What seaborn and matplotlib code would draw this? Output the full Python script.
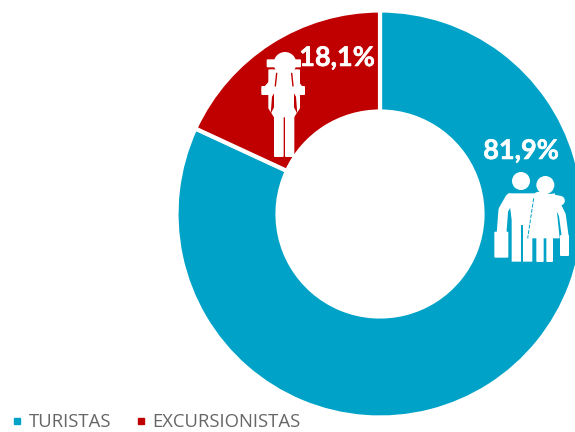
import matplotlib
matplotlib.use('Agg')
import matplotlib.pyplot as plt
import matplotlib.patheffects as pe
from matplotlib.lines import Line2D
from matplotlib.patches import Circle, FancyBboxPatch, Polygon
import seaborn as sns

categories = ['TURISTAS', 'EXCURSIONISTAS']
shares = [81.9, 18.1]
colors = ['#00A3C7', '#C00000']

sns.set_theme(style='white')
plt.rcParams['font.family'] = ['Open Sans', 'DejaVu Sans']

W, H = 575, 432
fig = plt.figure(figsize=(W / 100, H / 100), dpi=100)
ax = fig.add_axes([0, 0, 1, 1])

ax.pie(shares, colors=colors, startangle=90, counterclock=False,
       center=(380, H - 214), radius=203.5,
       wedgeprops={'width': 101, 'edgecolor': 'white', 'linewidth': 3})
ax.set_xlim(0, W)
ax.set_ylim(0, H)
ax.set_aspect('equal')
ax.axis('off')


def circle(x0, y0, x, y, r):
    ax.add_patch(Circle((x0 + x / 3, H - (y0 + y / 3)), r / 3, fc='white', ec='none', zorder=3))


def poly(x0, y0, pts, color='white', z=3):
    pts = [(x0 + x / 3, H - (y0 + y / 3)) for x, y in pts]
    ax.add_patch(Polygon(pts, closed=True, fc=color, ec='none', zorder=z))


def box(x0, y0, x, y, w, h, color='white', z=3):
    ax.add_patch(FancyBboxPatch((x0 + x / 3 + 1, H - (y0 + (y + h) / 3) + 1), w / 3 - 2, h / 3 - 2,
                                boxstyle='round,pad=1', fc=color, ec='none', zorder=z))


def stroke(x0, y0, pts, lw, color='white', z=3, ls='-'):
    ax.plot([x0 + p[0] / 3 for p in pts], [H - (y0 + p[1] / 3) for p in pts], color=color,
            lw=lw, ls=ls, solid_capstyle='round', solid_joinstyle='round', zorder=z)


# backpacker
bx, by = 250, 30
box(bx, by, 50, 88, 28, 24)
box(bx, by, 125, 88, 28, 24)
box(bx, by, 55, 118, 95, 60)
poly(bx, by, [(55, 190), (150, 190), (150, 235), (132, 262), (72, 262), (55, 235)])
poly(bx, by, [(66, 200), (72, 190), (72, 232), (62, 252)], colors[1], 4)
poly(bx, by, [(138, 200), (132, 190), (132, 232), (142, 252)], colors[1], 4)
stroke(bx, by, [(80, 130), (76, 168)], 1, colors[1], 4)
stroke(bx, by, [(125, 130), (129, 168)], 1, colors[1], 4)
box(bx, by, 80, 132, 46, 125)
box(bx, by, 72, 235, 29, 146)
box(bx, by, 105, 235, 28, 146)
poly(bx, by, [(74, 135), (84, 135), (84, 172), (40, 195), (34, 180)])
poly(bx, by, [(131, 135), (121, 135), (121, 172), (160, 195), (165, 180)])
box(bx, by, 34, 168, 50, 27)
box(bx, by, 118, 168, 47, 27)
circle(bx, by, 105, 100, 34)

# couple
cx, cy = 475, 130
circle(cx, cy, 138, 153, 27)
circle(cx, cy, 211, 165, 27)
poly(cx, cy, [(100, 190), (185, 190), (180, 270), (172, 285), (172, 395), (110, 395), (110, 270)])
stroke(cx, cy, [(105, 205), (85, 240), (80, 305)], 7)
box(cx, cy, 58, 305, 42, 78)
poly(cx, cy, [(178, 198), (240, 190), (254, 325), (158, 325)])
stroke(cx, cy, [(190, 200), (255, 212)], 7)
stroke(cx, cy, [(245, 220), (262, 255), (270, 315)], 5)
box(cx, cy, 255, 315, 27, 63)
box(cx, cy, 184, 320, 22, 76)
box(cx, cy, 214, 320, 20, 76)
poly(cx, cy, [(139, 285), (143, 285), (143, 396), (139, 396)], colors[0], 4)
stroke(cx, cy, [(176, 205), (158, 325)], 0.7, colors[0], 4, ls=(0, (4, 1.5)))

# percentage labels
label_pos = [(521, 151), (337, 58)]
for share, (x, y) in zip(shares, label_pos):
    ax.text(x, H - y, f'{share:.1f}%'.replace('.', ','), color='white', fontsize=19.5,
            fontweight='bold', family='Lato', ha='center', va='center', zorder=5,
            path_effects=[pe.withStroke(linewidth=0.4, foreground='white')])

handles = [Line2D([], [], ls='none', marker='s', ms=5, color=c) for c in colors]
ax.legend(handles, categories, ncol=2, frameon=False, fontsize=13.3, labelcolor='#666666',
          loc='lower left', bbox_to_anchor=(11.5 / W, 1 / H), bbox_transform=fig.transFigure,
          handlelength=0.6, handletextpad=0.32, columnspacing=1.3, borderpad=0, borderaxespad=0)

plt.savefig('out.png', dpi=100)
plt.close()
